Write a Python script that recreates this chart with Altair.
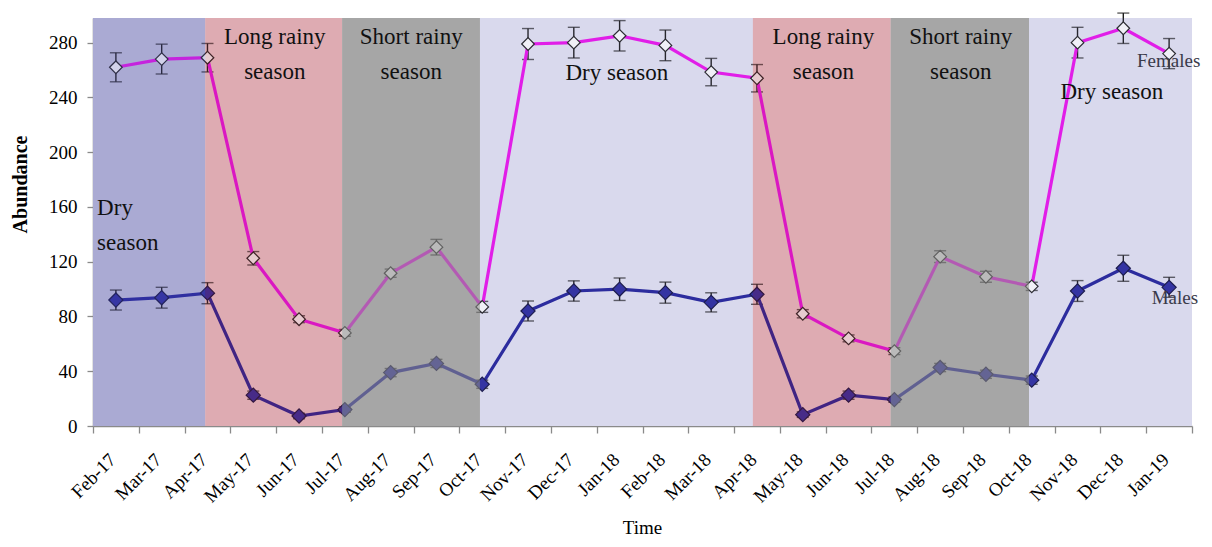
import altair as alt
import pandas as pd

months = ["Feb-17", "Mar-17", "Apr-17", "May-17", "Jun-17", "Jul-17", "Aug-17", "Sep-17",
          "Oct-17", "Nov-17", "Dec-17", "Jan-18", "Feb-18", "Mar-18", "Apr-18", "May-18",
          "Jun-18", "Jul-18", "Aug-18", "Sep-18", "Oct-18", "Nov-18", "Dec-18", "Jan-19"]

females = [262, 268, 269, 122.5, 78, 68, 111.6, 130.6, 87, 279, 280, 285, 278, 258.5, 254,
           82, 64, 54.7, 123.7, 109, 102, 280, 290.5, 272]
females_err = [10.6, 10.9, 10.4, 4.9, 2.5, 2.5, 3, 5.7, 4, 11.3, 11.2, 11.1, 11.2, 10, 10,
               3, 2.5, 2.5, 4.3, 4, 3, 11.2, 11.1, 11]
males = [92, 93.7, 97, 22.5, 7.3, 12, 39, 45.7, 30.5, 84, 98.6, 99.9, 97.4, 90.3, 96.2,
         8.3, 22.5, 19.3, 42.7, 37.8, 33.5, 98.6, 115.2, 101.3]
males_err = [7.3, 7.6, 7.7, 3, 2, 2, 3, 3, 3, 7.3, 7.4, 8.2, 7.7, 7, 7.3,
             2, 3, 2, 3, 3, 3, 7.6, 9.5, 7.3]

season_kind = ["dry_a", "long", "short", "dry_b", "long", "short", "dry_b"]
season_start = [0, 2.45, 5.44, 8.45, 14.41, 17.42, 20.44]
season_end = [2.45, 5.44, 8.45, 14.41, 17.42, 20.44, 24]

season_text = ["Dry\nseason", "Long rainy\nseason", "Short rainy\nseason", "Dry season",
               "Long rainy\nseason", "Short rainy\nseason", "Dry season"]
season_text_x = [0.09, 3.97, 6.95, 11.44, 15.95, 18.95, 22.25]
season_text_y = [154, 278.7, 278.7, 253, 278.7, 278.7, 238.5]
season_text_align = ["left", "center", "center", "center", "center", "center", "center"]

series_names = ["Females", "Males"]
series_label_x = [22.8, 23.12]
series_label_y = [262, 89]

Y_MAX = 298
W, H = 1099, 408

# styles per season kind: (base fill, overlay colour, overlay opacity)
KIND_STYLE = {
    "dry_a": ("#c8c8e0", "#5858b0", 0.27),
    "long": ("#f3d5d8", "#a03040", 0.25),
    "short": ("#cdcdcd", "#8c8c8c", 0.60),
    "dry_b": ("#e5e5f4", "#8080c0", 0.12),
}

rows = []
for i, m in enumerate(months):
    rows.append({"month": m, "sex": "Females", "value": females[i],
                 "lo": females[i] - females_err[i], "hi": females[i] + females_err[i]})
    rows.append({"month": m, "sex": "Males", "value": males[i],
                 "lo": males[i] - males_err[i], "hi": males[i] + males_err[i]})
df = pd.DataFrame(rows)

seasons = pd.DataFrame({"kind": season_kind, "start": season_start, "end": season_end,
                        "ylo": [0] * len(season_kind), "yhi": [Y_MAX] * len(season_kind)})
stext = pd.DataFrame({"text": season_text, "x": season_text_x, "y": season_text_y,
                      "align": season_text_align})
ltext = pd.DataFrame({"text": series_names, "x": series_label_x, "y": series_label_y})

FONT = "Liberation Serif"
yscale = alt.Scale(domain=[0, Y_MAX], nice=False, zero=True)
xq = alt.Scale(domain=[0, 24], nice=False, zero=False)
kinds = list(KIND_STYLE.keys())

yaxis = alt.Axis(values=[0, 40, 80, 120, 160, 200, 240, 280], labelFont=FONT,
                 labelFontSize=19, labelColor="#000000", tickSize=6, labelPadding=10,
                 title="Abundance", titleFont=FONT, titleFontSize=20, titleFontWeight="bold",
                 titleX=-73, titleY=166, titleAngle=-90, titleBaseline="middle",
                 titleAlign="center", titleColor="#000000", grid=False)


def Y(field):
    return alt.Y(field, scale=yscale, axis=yaxis)


bottom = alt.Chart(seasons).mark_rect().encode(
    x=alt.X("start:Q", scale=xq, axis=None),
    x2="end:Q",
    y=Y("ylo:Q"),
    y2="yhi:Q",
    color=alt.Color("kind:N", scale=alt.Scale(domain=kinds,
                    range=[KIND_STYLE[k][0] for k in kinds]), legend=None),
)

tops = []
for k in kinds:
    _, oc, op = KIND_STYLE[k]
    tops.append(alt.Chart(seasons).transform_filter(alt.datum.kind == k).mark_rect(
        color=oc, opacity=op).encode(
        x=alt.X("start:Q", scale=xq, axis=None),
        x2="end:Q",
        y=Y("ylo:Q"),
        y2="yhi:Q",
    ))

xaxis = alt.Axis(labelAngle=-45, tickBand="extent", labelFont=FONT, labelFontSize=19,
                 labelColor="#000000", tickSize=7, labelPadding=17, labelOffset=-10,
                 labelAlign="right", labelBaseline="top",
                 title="Time", titleFont=FONT, titleFontSize=19, titleFontWeight="normal",
                 titleColor="#000000",
                 titleX=549, titleY=107, titleBaseline="alphabetic", titleAlign="center")

base = alt.Chart(df).encode(
    x=alt.X("month:O", sort=months,
            scale=alt.Scale(domain=months, paddingInner=0, paddingOuter=0), axis=xaxis),
)

err_rule = base.mark_rule(color="#1a1a1a", strokeWidth=1.4).encode(
    y=Y("lo:Q"), y2="hi:Q")
cap_lo = base.mark_tick(color="#1a1a1a", thickness=1.4, size=12).encode(y=Y("lo:Q"))
cap_hi = base.mark_tick(color="#1a1a1a", thickness=1.4, size=12).encode(y=Y("hi:Q"))
lines = base.mark_line(strokeWidth=3.2).encode(
    y=Y("value:Q"),
    stroke=alt.Stroke("sex:N", scale=alt.Scale(domain=series_names,
                      range=["#ee10ee", "#20209a"]), legend=None),
    detail="sex:N",
)
pts = base.mark_point(shape="diamond", filled=True, strokeWidth=1.2, opacity=1).encode(
    y=Y("value:Q"),
    fill=alt.Fill("sex:N", scale=alt.Scale(domain=series_names,
                  range=["#ffffff", "#2a2aa0"]), legend=None),
    stroke=alt.Stroke("sex:N", scale=alt.Scale(domain=series_names,
                      range=["#202020", "#101040"]), legend=None),
    size=alt.Size("sex:N", scale=alt.Scale(domain=series_names, range=[160, 200]),
                  legend=None),
)
data_layer = alt.layer(err_rule, cap_lo, cap_hi, lines, pts).resolve_scale(
    stroke="independent")

stext_center = alt.Chart(stext).transform_filter(alt.datum.align == "center").mark_text(
    font=FONT, fontSize=23, lineBreak="\n", lineHeight=35, baseline="alphabetic",
    color="#111111", align="center").encode(
    x=alt.X("x:Q", scale=xq, axis=None),
    y=Y("y:Q"),
    text="text:N",
)
stext_left = alt.Chart(stext).transform_filter(alt.datum.align == "left").mark_text(
    font=FONT, fontSize=23, lineBreak="\n", lineHeight=35, baseline="alphabetic",
    color="#111111", align="left").encode(
    x=alt.X("x:Q", scale=xq, axis=None),
    y=Y("y:Q"),
    text="text:N",
)
ltext_layer = alt.Chart(ltext).mark_text(font=FONT, fontSize=19, baseline="alphabetic",
                                         align="left", color="#3a3a4a").encode(
    x=alt.X("x:Q", scale=xq, axis=None),
    y=Y("y:Q"),
    text="text:N",
)

chart = alt.layer(bottom, data_layer, *tops, stext_center, stext_left, ltext_layer).resolve_scale(
    x="independent", color="independent"
).properties(
    width=W, height=H,
    autosize=alt.AutoSizeParams(type="none"),
    padding={"left": 85, "top": 10, "right": 12, "bottom": 113},
).configure_view(stroke=None).configure_axis(
    domainColor="#8a8a8a", tickColor="#8a8a8a", domainWidth=1.5, tickWidth=1.3, grid=False,
    labelFont=FONT, titleFont=FONT
)

chart.save("out.html", embed_options={"renderer": "svg", "actions": False})
